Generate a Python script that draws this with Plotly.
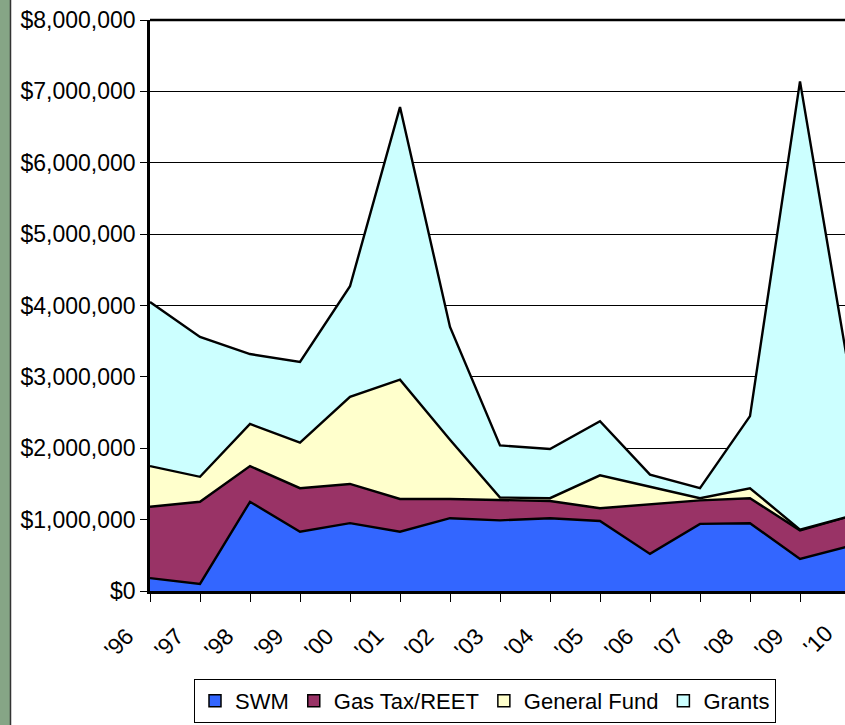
import plotly.graph_objects as go

# years '96 - '10
anos = ["'96", "'97", "'98", "'99", "'00", "'01", "'02", "'03", "'04", "'05",
        "'06", "'07", "'08", "'09", "'10"]

swm = [180000, 100000, 1250000, 830000, 950000, 830000, 1020000, 990000,
       1020000, 980000, 520000, 940000, 950000, 450000, 630000]
gas_tax = [1000000, 1150000, 500000, 610000, 550000, 460000, 270000, 290000,
           240000, 180000, 700000, 330000, 350000, 400000, 420000]
general_fund = [570000, 350000, 590000, 640000, 1220000, 1670000, 830000, 30000,
                40000, 460000, 240000, 30000, 140000, 10000, 0]
grants = [2300000, 1960000, 980000, 1130000, 1550000, 3820000, 1580000, 730000,
          690000, 760000, 170000, 140000, 1010000, 6280000, 1950000]

series = [
    ("SWM", swm, "#3366FF"),
    ("Gas Tax/REET", gas_tax, "#993366"),
    ("General Fund", general_fund, "#FFFFCC"),
    ("Grants", grants, "#CCFFFF"),
]

x = list(range(len(anos)))
fig = go.Figure()

for nome, valores, cor in series:
    fig.add_trace(go.Scatter(
        x=x, y=valores, name=nome, mode='lines',
        stackgroup='one', fillcolor=cor,
        line=dict(color='black', width=2.4),
        showlegend=False
    ))

# legend squares
for nome, valores, cor in series:
    fig.add_trace(go.Scatter(
        x=[None], y=[None], name=nome, mode='markers',
        marker=dict(symbol='square', size=12, color=cor,
                    line=dict(color='black', width=1.5))
    ))

W, H = 845, 725
L, R, T, B = 150, 0, 20, 134
pw = W - L - R
ph = H - T - B

# left grey-green strip
fig.add_shape(type='rect', xref='paper', yref='paper',
              x0=-L / pw, x1=-(L - 10) / pw, y0=-B / ph, y1=(ph + T) / ph,
              fillcolor='#86A586', line_width=0, layer='below')
fig.add_shape(type='line', xref='paper', yref='paper',
              x0=-(L - 10.5) / pw, x1=-(L - 10.5) / pw, y0=-B / ph, y1=(ph + T) / ph,
              line=dict(color='#333333', width=1.5))

# '10 tick label sits just past the clipped right edge
fig.add_annotation(text=anos[-1], xref='paper', yref='paper',
                   x=(818 - L) / pw, y=-(640 - (T + ph)) / ph,
                   xanchor='center', yanchor='middle',
                   textangle=-45, showarrow=False,
                   font=dict(size=23, color='black'))

fig.update_layout(
    width=W, height=H,
    margin=dict(l=L, r=R, t=T, b=B),
    plot_bgcolor='white',
    paper_bgcolor='white',
    font=dict(family='Liberation Sans, Arial', size=23, color='black'),
    xaxis=dict(
        range=[0, 13.9], tickvals=x[:-1], ticktext=anos[:-1],
        tickangle=-45, ticks='outside', ticklen=8, tickcolor='black',
        ticklabelshift=-23, ticklabelstandoff=12,
        showline=True, linecolor='black', linewidth=2.5,
        showgrid=False, zeroline=False, mirror=False
    ),
    yaxis=dict(
        range=[0, 8000000], dtick=1000000, tickformat='$,.0f',
        ticks='outside', ticklen=7, tickcolor='black',
        showline=True, linecolor='black', linewidth=2.5,
        showgrid=True, gridcolor='black', gridwidth=1,
        zeroline=False
    ),
    legend=dict(
        orientation='h', x=(485 - L) / pw, xanchor='center',
        y=-(679 - (T + ph)) / ph, yanchor='top',
        bordercolor='black', borderwidth=1, traceorder='normal',
        font=dict(size=22), itemwidth=30
    ),
    showlegend=True
)

# top border of plot area
fig.add_shape(type='line', xref='paper', yref='paper',
              x0=0, x1=1, y0=1, y1=1, line=dict(color='black', width=2.5))

fig.write_html("out.html", config={'displayModeBar': False},
               post_script="document.body.style.margin='0';")
